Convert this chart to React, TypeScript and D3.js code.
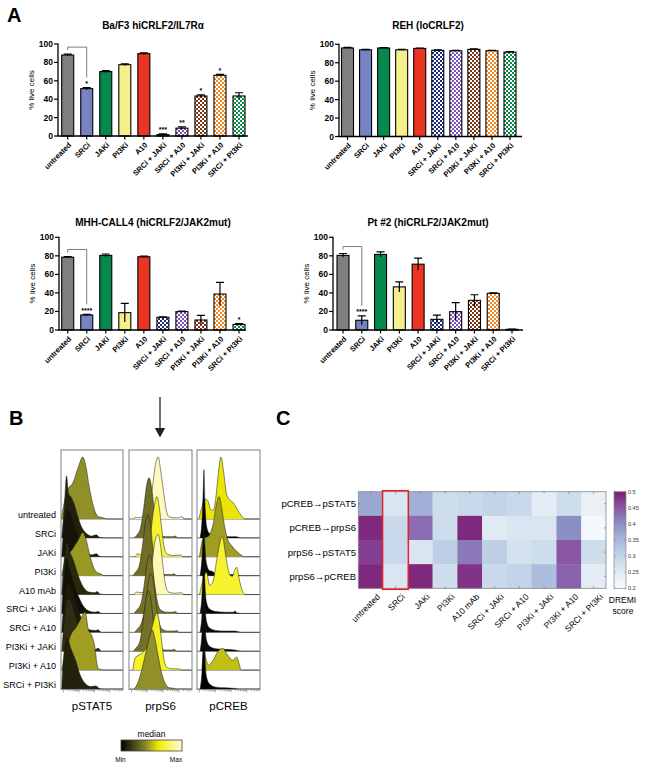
import React from "react";
import * as d3 from "d3";

// ---------------- DATA ----------------
const treatments = ["untreated", "SRCi", "JAKi", "PI3Ki", "A10", "SRCi + JAKi", "SRCi + A10", "PI3Ki + JAKi", "PI3Ki + A10", "SRCi + PI3Ki"];
const flowTreatments = ["untreated", "SRCi", "JAKi", "PI3Ki", "A10 mAb", "SRCi + JAKi", "SRCi + A10", "PI3Ki + JAKi", "PI3Ki + A10", "SRCi + PI3Ki"];
const yTicks = [0, 20, 40, 60, 80, 100];

const bafValues = [88, 51.5, 70, 77.5, 89.5, 1.5, 8.5, 43.5, 66, 43.5];
const bafErrors = [1, 1.2, 1, 0.8, 0.8, 0.8, 1.5, 1.2, 1, 3.5];
const bafStars = ["", "*", "", "", "", "***", "**", "*", "*", ""];

const rehValues = [96, 94, 96, 94, 95.5, 93.5, 93, 94.5, 93, 91.5];
const rehErrors = [0.6, 0.4, 0.4, 0.4, 0.4, 0.5, 0.4, 0.5, 0.4, 0.6];
const rehStars = ["", "", "", "", "", "", "", "", "", ""];

const mhhValues = [78.5, 16.2, 80.5, 18.7, 79, 13.7, 19.8, 10.8, 38.8, 6];
const mhhErrors = [0.8, 0.7, 1.5, 10, 0.8, 0.6, 0.7, 5, 12.6, 1];
const mhhStars = ["", "****", "", "", "", "", "", "", "", "*"];

const ptValues = [80.5, 10.5, 81.5, 46.5, 71, 11.5, 19.8, 32, 39.5, 0.7];
const ptErrors = [2, 4.8, 2.8, 5.5, 6.5, 4.5, 9.8, 6, 0.6, 0.3];
const ptStars = ["", "****", "", "", "", "", "", "", "", ""];

// flow histograms: [log-axis fraction, normalized count]; level = median colour level (0=min,1=max)
const pstat5Levels = [0.42, 0.1, 0.06, 0.44, 0.12, 0.05, 0.08, 0.14, 0.45, 0.1];
const pstat5Hist: [number, number][][] = [
  [[0, 0], [0.04, 0.2], [0.1, 0.45], [0.2, 0.6], [0.28, 0.84], [0.35, 1.0], [0.4, 0.86], [0.45, 0.55], [0.5, 0.3], [0.55, 0.12], [0.6, 0.04], [0.68, 0.02], [0.74, 0], [1, 0]],
  [[0.01, 0], [0.05, 0.45], [0.09, 1.0], [0.12, 0.72], [0.16, 0.66], [0.2, 0.58], [0.27, 0.35], [0.33, 0.18], [0.4, 0.08], [0.5, 0.03], [0.57, 0.05], [0.62, 0.01], [0.7, 0], [1, 0]],
  [[0.01, 0], [0.05, 0.5], [0.1, 0.75], [0.15, 0.72], [0.2, 0.55], [0.27, 0.35], [0.34, 0.16], [0.42, 0.06], [0.5, 0.03], [0.57, 0.05], [0.62, 0.01], [0.7, 0], [1, 0]],
  [[0.01, 0], [0.08, 0.28], [0.18, 0.42], [0.28, 0.58], [0.35, 0.7], [0.4, 0.6], [0.46, 0.35], [0.52, 0.15], [0.58, 0.05], [0.64, 0.03], [0.7, 0], [1, 0]],
  [[0.01, 0], [0.05, 0.55], [0.1, 0.85], [0.14, 0.7], [0.2, 0.55], [0.28, 0.3], [0.36, 0.12], [0.45, 0.04], [0.55, 0.03], [0.58, 0.05], [0.63, 0.01], [0.7, 0], [1, 0]],
  [[0.01, 0], [0.05, 0.6], [0.09, 0.9], [0.13, 0.75], [0.2, 0.5], [0.28, 0.28], [0.36, 0.12], [0.45, 0.04], [0.55, 0.02], [0.6, 0.03], [0.65, 0], [1, 0]],
  [[0.01, 0], [0.05, 0.5], [0.1, 0.8], [0.15, 0.75], [0.22, 0.55], [0.3, 0.3], [0.38, 0.12], [0.46, 0.04], [0.56, 0.03], [0.6, 0.04], [0.65, 0], [1, 0]],
  [[0.01, 0], [0.05, 0.45], [0.11, 0.85], [0.16, 0.8], [0.22, 0.6], [0.3, 0.35], [0.38, 0.15], [0.46, 0.05], [0.56, 0.03], [0.6, 0.05], [0.65, 0], [1, 0]],
  [[0.01, 0], [0.08, 0.3], [0.15, 0.55], [0.25, 0.7], [0.33, 0.85], [0.39, 0.94], [0.44, 0.66], [0.5, 0.55], [0.55, 0.35], [0.58, 0.1], [0.61, 0.02], [0.7, 0], [1, 0]],
  [[0.01, 0], [0.05, 0.6], [0.1, 0.82], [0.16, 0.65], [0.24, 0.45], [0.3, 0.25], [0.38, 0.1], [0.48, 0.04], [0.56, 0.05], [0.62, 0.01], [0.7, 0], [1, 0]],
];

const prps6Levels = [0.95, 0.33, 0.7, 0.33, 0.93, 0.35, 0.36, 0.34, 0.68, 0.42];
const prps6Hist: [number, number][][] = [
  [[0.08, 0], [0.1, 0.03], [0.14, 0.02], [0.22, 0.04], [0.31, 0.2], [0.37, 0.5], [0.42, 0.88], [0.465, 1.0], [0.5, 0.8], [0.545, 0.47], [0.59, 0.15], [0.63, 0.04], [0.7, 0.02], [0.8, 0.02], [0.84, 0.04], [0.87, 0], [1, 0]],
  [[0.08, 0], [0.12, 0.04], [0.18, 0.15], [0.23, 0.45], [0.28, 0.85], [0.32, 0.97], [0.36, 0.8], [0.4, 0.45], [0.45, 0.15], [0.5, 0.05], [0.58, 0.02], [0.7, 0.02], [0.74, 0.03], [0.77, 0], [1, 0]],
  [[0.1, 0], [0.14, 0.05], [0.2, 0.03], [0.28, 0.1], [0.34, 0.35], [0.39, 0.75], [0.445, 0.97], [0.48, 0.8], [0.52, 0.45], [0.56, 0.15], [0.61, 0.04], [0.7, 0.02], [0.82, 0.03], [0.86, 0], [1, 0]],
  [[0.06, 0], [0.1, 0.05], [0.16, 0.15], [0.21, 0.45], [0.26, 0.85], [0.3, 0.98], [0.34, 0.82], [0.38, 0.45], [0.43, 0.15], [0.48, 0.05], [0.56, 0.02], [0.68, 0.02], [0.72, 0.03], [0.75, 0], [1, 0]],
  [[0.08, 0], [0.12, 0.04], [0.2, 0.03], [0.3, 0.15], [0.36, 0.45], [0.41, 0.85], [0.46, 0.97], [0.5, 0.8], [0.54, 0.45], [0.58, 0.15], [0.63, 0.04], [0.72, 0.02], [0.84, 0.03], [0.87, 0], [1, 0]],
  [[0.08, 0], [0.12, 0.05], [0.19, 0.16], [0.24, 0.45], [0.29, 0.82], [0.33, 0.95], [0.37, 0.8], [0.41, 0.45], [0.46, 0.15], [0.51, 0.05], [0.6, 0.02], [0.7, 0.02], [0.74, 0.03], [0.77, 0], [1, 0]],
  [[0.09, 0], [0.13, 0.05], [0.2, 0.16], [0.26, 0.45], [0.31, 0.82], [0.35, 0.95], [0.39, 0.8], [0.43, 0.45], [0.48, 0.15], [0.53, 0.05], [0.62, 0.02], [0.72, 0.02], [0.76, 0.03], [0.79, 0], [1, 0]],
  [[0.07, 0], [0.11, 0.05], [0.17, 0.15], [0.22, 0.45], [0.27, 0.85], [0.31, 0.97], [0.35, 0.82], [0.39, 0.45], [0.44, 0.15], [0.49, 0.05], [0.57, 0.02], [0.68, 0.02], [0.72, 0.03], [0.75, 0], [1, 0]],
  [[0.06, 0], [0.1, 0.2], [0.2, 0.27], [0.3, 0.4], [0.37, 0.7], [0.44, 0.92], [0.48, 0.78], [0.52, 0.45], [0.56, 0.15], [0.61, 0.04], [0.7, 0.02], [0.8, 0.02], [0.84, 0], [1, 0]],
  [[0.08, 0], [0.14, 0.1], [0.2, 0.3], [0.27, 0.6], [0.33, 0.85], [0.37, 0.95], [0.41, 0.82], [0.46, 0.55], [0.52, 0.25], [0.58, 0.08], [0.64, 0.02], [0.72, 0.01], [0.76, 0], [1, 0]],
];

const pcrebLevels = [0.6, 0.0, 0.45, 0.02, 0.7, 0.0, 0.03, 0.03, 0.52, 0.0];
const pcrebHist: [number, number][][] = [
  [[0.03, 0], [0.08, 0.2], [0.13, 0.32], [0.17, 0.3], [0.22, 0.15], [0.26, 0.14], [0.3, 0.35], [0.34, 0.75], [0.38, 1.0], [0.42, 0.78], [0.47, 0.4], [0.53, 0.3], [0.58, 0.26], [0.64, 0.15], [0.7, 0.06], [0.76, 0], [1, 0]],
  [[0.05, 0], [0.08, 0.3], [0.1, 0.8], [0.11, 1.1], [0.125, 0.6], [0.15, 0.2], [0.19, 0.08], [0.25, 0.05], [0.35, 0.03], [0.5, 0.02], [0.62, 0.02], [0.7, 0], [1, 0]],
  [[0.04, 0], [0.1, 0.3], [0.18, 0.33], [0.26, 0.55], [0.31, 0.85], [0.35, 0.97], [0.39, 0.8], [0.42, 0.6], [0.48, 0.3], [0.55, 0.18], [0.64, 0.08], [0.76, 0], [1, 0]],
  [[0.05, 0], [0.08, 0.3], [0.1, 0.7], [0.11, 0.9], [0.125, 0.5], [0.15, 0.2], [0.2, 0.08], [0.24, 0.07], [0.3, 0.03], [0.45, 0.02], [0.6, 0.02], [0.7, 0], [1, 0]],
  [[0.04, 0], [0.1, 0.25], [0.15, 0.36], [0.2, 0.15], [0.25, 0.2], [0.32, 0.6], [0.4, 0.94], [0.46, 0.6], [0.52, 0.32], [0.56, 0.29], [0.6, 0.4], [0.63, 0.44], [0.67, 0.25], [0.72, 0.06], [0.77, 0], [1, 0]],
  [[0.05, 0], [0.08, 0.3], [0.1, 0.75], [0.11, 0.95], [0.125, 0.5], [0.15, 0.18], [0.2, 0.07], [0.3, 0.03], [0.45, 0.02], [0.58, 0.02], [0.6, 0.04], [0.63, 0.01], [0.7, 0], [1, 0]],
  [[0.05, 0], [0.08, 0.3], [0.1, 0.7], [0.11, 0.9], [0.125, 0.5], [0.15, 0.18], [0.2, 0.07], [0.3, 0.03], [0.45, 0.02], [0.6, 0.02], [0.7, 0], [1, 0]],
  [[0.05, 0], [0.08, 0.3], [0.1, 0.72], [0.11, 0.92], [0.125, 0.5], [0.15, 0.18], [0.2, 0.08], [0.3, 0.04], [0.45, 0.03], [0.6, 0.02], [0.7, 0], [1, 0]],
  [[0.08, 0], [0.11, 0.32], [0.15, 0.15], [0.18, 0.08], [0.25, 0.15], [0.33, 0.3], [0.41, 0.35], [0.48, 0.25], [0.57, 0.16], [0.63, 0.21], [0.67, 0.1], [0.7, 0], [1, 0]],
  [[0.05, 0], [0.08, 0.3], [0.1, 0.75], [0.11, 1.0], [0.125, 0.55], [0.15, 0.2], [0.2, 0.08], [0.3, 0.03], [0.45, 0.02], [0.6, 0.01], [0.7, 0], [1, 0]],
];

const flowMarkers = ["pSTAT5", "prpS6", "pCREB"];

// DREMI heatmap
const dremiEdges = ["pCREB\u2192pSTAT5", "pCREB\u2192prpS6", "prpS6\u2192pSTAT5", "prpS6\u2192pCREB"];
const dremiCrebStat5 = [0.37, 0.26, 0.36, 0.28, 0.29, 0.3, 0.29, 0.24, 0.28, 0.23];
const dremiCrebRps6 = [0.49, 0.29, 0.43, 0.28, 0.49, 0.25, 0.26, 0.26, 0.4, 0.21];
const dremiRps6Stat5 = [0.47, 0.29, 0.26, 0.31, 0.42, 0.31, 0.27, 0.28, 0.45, 0.28];
const dremiRps6Creb = [0.49, 0.26, 0.49, 0.28, 0.48, 0.29, 0.3, 0.34, 0.44, 0.24];
const dremiTicks = [0.2, 0.25, 0.3, 0.35, 0.4, 0.45, 0.5];

// ---------------- STYLE ----------------
const FONT = "'Liberation Sans', Arial, Helvetica, sans-serif";
const barColors = ["#7f7f7f", "#7683c1", "#06894e", "#f5ef8c", "#ec3423", "#1c2a7a", "#7c53b6", "#7a3515", "#f68b26", "#0b8b48"];
const barPatterned = [false, false, false, false, false, true, true, true, true, true];

const medianColor = d3.scaleLinear<string>()
  .domain([0, 0.4, 0.62, 1])
  .range(["#000000", "#86852c", "#f4ef00", "#fffbdc"])
  .interpolate(d3.interpolateRgb);

const dremiColor = d3.scaleLinear<string>()
  .domain([0.2, 0.25, 0.3, 0.35, 0.4, 0.45, 0.5])
  .range(["#f7fbfd", "#dfeaf3", "#c3d4e8", "#a5b8db", "#8c8fc4", "#8a56a6", "#7b1c74"])
  .interpolate(d3.interpolateRgb);

type ChartCfg = {
  title: string; values: number[]; errors: number[]; stars: string[]; bracket: boolean;
  axisX0: number; axisX1: number; c0: number; c9: number; y0: number; y100: number; titleX: number; titleY: number;
};

const charts: ChartCfg[] = [
  { title: "Ba/F3 hiCRLF2/IL7R\u03b1", values: bafValues, errors: bafErrors, stars: bafStars, bracket: true,
    axisX0: 58, axisX1: 248, c0: 67.7, c9: 239, y0: 136, y100: 44, titleX: 153, titleY: 29 },
  { title: "REH (loCRLF2)", values: rehValues, errors: rehErrors, stars: rehStars, bracket: false,
    axisX0: 339, axisX1: 522, c0: 347.5, c9: 510, y0: 136.5, y100: 44.3, titleX: 428, titleY: 29 },
  { title: "MHH-CALL4 (hiCRLF2/JAK2mut)", values: mhhValues, errors: mhhErrors, stars: mhhStars, bracket: true,
    axisX0: 59, axisX1: 246, c0: 67.7, c9: 239, y0: 330, y100: 237.3, titleX: 153, titleY: 226 },
  { title: "Pt #2 (hiCRLF2/JAK2mut)", values: ptValues, errors: ptErrors, stars: ptStars, bracket: true,
    axisX0: 333, axisX1: 523, c0: 343, c9: 512, y0: 330, y100: 237.3, titleX: 428, titleY: 226 },
];

function BarChart({ cfg }: { cfg: ChartCfg }) {
  const x = d3.scalePoint<string>().domain(treatments).range([cfg.c0, cfg.c9]);
  const y = d3.scaleLinear().domain([0, 100]).range([cfg.y0, cfg.y100]);
  const bw = 12;
  const cap = 4;
  const yMid = (cfg.y0 + cfg.y100) / 2;
  let bracket: React.ReactNode = null;
  if (cfg.bracket) {
    const xa = x(treatments[0])!;
    const xb = x(treatments[1])!;
    const by = y(cfg.values[0] + cfg.errors[0]) - 7;
    const starY = y(cfg.values[1] + cfg.errors[1]) - 2;
    bracket = (
      <path d={`M${xa},${by + 3}V${by}H${xb}V${starY - 8}`} fill="none" stroke="#6e6e6e" strokeWidth={0.9} />
    );
  }
  return (
    <g>
      <text x={cfg.titleX} y={cfg.titleY} textAnchor="middle" fontSize={10} fontWeight="bold" fontFamily={FONT}>{cfg.title}</text>
      <text transform={`translate(${cfg.axisX0 - 24},${yMid}) rotate(-90)`} textAnchor="middle" fontSize={8} fontFamily={FONT}>% live cells</text>
      {treatments.map((t, i) => {
        const cx = x(t)!;
        const v = cfg.values[i];
        const e = cfg.errors[i];
        const fill = barPatterned[i] ? `url(#chk${i})` : barColors[i];
        return (
          <g key={t}>
            <rect x={cx - bw / 2} y={y(v)} width={bw} height={cfg.y0 - y(v)} fill={fill} stroke="#000" strokeWidth={1.1} />
            <path d={`M${cx},${y(v - e)}V${y(v + e)}M${cx - cap},${y(v + e)}H${cx + cap}`} stroke="#000" strokeWidth={1.2} fill="none" />
            {cfg.stars[i] ? (
              <text x={cx} y={y(v + e) - 1.5} textAnchor="middle" fontSize={7} fontWeight="bold" fontFamily={FONT}>{cfg.stars[i]}</text>
            ) : null}
          </g>
        );
      })}
      {bracket}
      <line x1={cfg.axisX0} x2={cfg.axisX0} y1={cfg.y0} y2={cfg.y100 - 0.5} stroke="#000" strokeWidth={1.3} />
      <line x1={cfg.axisX0 - 0.6} x2={cfg.axisX1} y1={cfg.y0} y2={cfg.y0} stroke="#000" strokeWidth={1.3} />
      {yTicks.map((t) => (
        <g key={t}>
          <line x1={cfg.axisX0 - 4} x2={cfg.axisX0} y1={y(t)} y2={y(t)} stroke="#000" strokeWidth={1.2} />
          <text x={cfg.axisX0 - 5} y={y(t) + 3} textAnchor="end" fontSize={8.5} fontWeight="bold" fontFamily={FONT}>{t}</text>
        </g>
      ))}
      {treatments.map((t) => (
        <g key={"xt" + t}>
          <line x1={x(t)!} x2={x(t)!} y1={cfg.y0} y2={cfg.y0 + 3.5} stroke="#000" strokeWidth={1.2} />
          <text transform={`translate(${x(t)! + 4},${cfg.y0 + 9.5}) rotate(-45)`} textAnchor="end" fontSize={7.5} fontWeight="bold" fontFamily={FONT}>{t}</text>
        </g>
      ))}
    </g>
  );
}

const BOX_TOP = 450;
const BOX_BOTTOM = 689.5;
const HIST_H = 62;
const flowBoxes = [
  { x0: 61, x1: 123, hist: pstat5Hist, levels: pstat5Levels },
  { x0: 129, x1: 192, hist: prps6Hist, levels: prps6Levels },
  { x0: 197, x1: 260, hist: pcrebHist, levels: pcrebLevels },
];

function FlowPanel() {
  const rowY = d3.scalePoint<string>().domain(flowTreatments).range([519, 689]);
  const logTicks: { f: number; major: boolean }[] = [];
  [0.04, 0.29, 0.54, 0.79].forEach((d0) => {
    for (let k = 1; k <= 9; k++) {
      const f = d0 + 0.25 * Math.log10(k);
      if (f <= 1) logTicks.push({ f, major: k === 1 });
    }
  });
  return (
    <g>
      <defs>
        {flowBoxes.map((b, bi) => (
          <clipPath id={`boxclip${bi}`} key={bi}>
            <rect x={b.x0} y={BOX_TOP} width={b.x1 - b.x0} height={BOX_BOTTOM - BOX_TOP} />
          </clipPath>
        ))}
      </defs>
      {flowTreatments.map((t) => (
        <text key={t} x={56} y={rowY(t)! - 1} textAnchor="end" fontSize={9} fontFamily={FONT}>{t}</text>
      ))}
      {flowBoxes.map((b, bi) => {
        const xs = d3.scaleLinear().domain([0, 1]).range([b.x0, b.x1]);
        return (
          <g key={bi}>
            <rect x={b.x0} y={BOX_TOP} width={b.x1 - b.x0} height={BOX_BOTTOM - BOX_TOP} fill="#fff" />
            <g clipPath={`url(#boxclip${bi})`}>
              {flowTreatments.map((t, ri) => {
                const base = rowY(t)!;
                const area = d3.area<[number, number]>().x((d) => xs(d[0])).y0(base).y1((d) => base - d[1] * HIST_H).curve(d3.curveMonotoneX);
                const line = d3.line<[number, number]>().x((d) => xs(d[0])).y((d) => base - d[1] * HIST_H).curve(d3.curveMonotoneX);
                return (
                  <g key={t}>
                    <line x1={b.x0} x2={b.x1} y1={base} y2={base} stroke="#6a6a6a" strokeWidth={0.9} />
                    <path d={area(b.hist[ri]) || ""} fill={medianColor(b.levels[ri])} stroke="none" />
                    <path d={line(b.hist[ri]) || ""} fill="none" stroke="#1a1a1a" strokeWidth={0.5} />
                  </g>
                );
              })}
            </g>
            <rect x={b.x0} y={BOX_TOP} width={b.x1 - b.x0} height={BOX_BOTTOM - BOX_TOP} fill="none" stroke="#8a8a8a" strokeWidth={1.1} />
            {logTicks.map((lt, i) => (
              <line key={i} x1={xs(lt.f)} x2={xs(lt.f)} y1={BOX_BOTTOM + 0.5} y2={BOX_BOTTOM + (lt.major ? 3 : 1.8)} stroke="#777" strokeWidth={0.6} />
            ))}
            <text x={(b.x0 + b.x1) / 2} y={710} textAnchor="middle" fontSize={11.5} fontFamily={FONT}>{flowMarkers[bi]}</text>
          </g>
        );
      })}
      <line x1={160} x2={160} y1={397} y2={429} stroke="#222" strokeWidth={1.3} />
      <path d="M154.8,428 L165.2,428 L160,437.5 Z" fill="#222" />
      <defs>
        <linearGradient id="medGrad" x1="0" x2="1" y1="0" y2="0">
          {d3.range(0, 1.0001, 0.1).map((s) => (
            <stop key={s} offset={s} stopColor={medianColor(s)} />
          ))}
        </linearGradient>
      </defs>
      <text x={151.5} y={737} textAnchor="middle" fontSize={8.5} fontFamily={FONT}>median</text>
      <rect x={121} y={740} width={61} height={11} fill="url(#medGrad)" stroke="#444" strokeWidth={0.8} />
      <text x={120.5} y={762} textAnchor="middle" fontSize={6.5} fontFamily={FONT}>Min</text>
      <text x={176} y={762} textAnchor="middle" fontSize={6.5} fontFamily={FONT}>Max</text>
    </g>
  );
}

function DremiPanel() {
  const rows = [dremiCrebStat5, dremiCrebRps6, dremiRps6Stat5, dremiRps6Creb];
  const x = d3.scaleBand<string>().domain(flowTreatments).range([358.3, 606]);
  const y = d3.scaleBand<string>().domain(dremiEdges).range([491.7, 588.3]);
  const cb = d3.scaleLinear().domain([0.2, 0.5]).range([588.3, 491.7]);
  const x0 = 358.3, x1 = 606, y0 = 491.7, y1 = 588.3;
  return (
    <g>
      <defs>
        <linearGradient id="dremiGrad" x1="0" x2="0" y1="1" y2="0">
          {d3.range(0, 1.0001, 0.05).map((s) => (
            <stop key={s} offset={s} stopColor={dremiColor(0.2 + s * 0.3)} />
          ))}
        </linearGradient>
      </defs>
      {rows.map((vals, ri) =>
        vals.map((v, ci) => (
          <rect key={ri + "-" + ci} x={x(flowTreatments[ci])!} y={y(dremiEdges[ri])!} width={x.bandwidth() + 0.3} height={y.bandwidth() + 0.3} fill={dremiColor(v)} />
        ))
      )}
      <rect x={x0} y={y0} width={x1 - x0} height={y1 - y0} fill="none" stroke="#8a8a8a" strokeWidth={0.8} />
      {flowTreatments.map((t) => (
        <g key={t}>
          <line x1={x(t)! + x.bandwidth() / 2} x2={x(t)! + x.bandwidth() / 2} y1={y0} y2={y0 + 2} stroke="#666" strokeWidth={0.6} />
          <line x1={x(t)! + x.bandwidth() / 2} x2={x(t)! + x.bandwidth() / 2} y1={y1} y2={y1 - 2} stroke="#666" strokeWidth={0.6} />
          <text transform={`translate(${x(t)! + x.bandwidth() / 2 + 10},${y1 + 9}) rotate(-45)`} textAnchor="end" fontSize={8.5} fontFamily={FONT}>{t}</text>
        </g>
      ))}
      {dremiEdges.map((e) => (
        <g key={e}>
          <line x1={x1} x2={x1 - 2} y1={y(e)! + y.bandwidth() / 2} y2={y(e)! + y.bandwidth() / 2} stroke="#666" strokeWidth={0.6} />
          <line x1={x0} x2={x0 + 2} y1={y(e)! + y.bandwidth() / 2} y2={y(e)! + y.bandwidth() / 2} stroke="#666" strokeWidth={0.6} />
          <text x={356} y={y(e)! + y.bandwidth() / 2 + 3.5} textAnchor="end" fontSize={9.5} fontFamily={FONT}>{e}</text>
        </g>
      ))}
      <rect x={x("SRCi")! - 0.5} y={y0 - 1} width={x.bandwidth() + 1} height={y1 - y0 + 2} fill="none" stroke="#e5202a" strokeWidth={1.5} />
      <rect x={614} y={491.7} width={12} height={96.6} fill="url(#dremiGrad)" stroke="#8a8a8a" strokeWidth={0.7} />
      {dremiTicks.map((t) => (
        <g key={t}>
          <line x1={626} x2={624.5} y1={cb(t)} y2={cb(t)} stroke="#666" strokeWidth={0.5} />
          <line x1={614} x2={615.5} y1={cb(t)} y2={cb(t)} stroke="#666" strokeWidth={0.5} />
          <text x={628} y={cb(t) + 2} fontSize={5.5} fontFamily={FONT} fill="#333">{String(t)}</text>
        </g>
      ))}
      <text x={622.5} y={603} textAnchor="middle" fontSize={8.5} fontFamily={FONT}>DREMI</text>
      <text x={623} y={613.5} textAnchor="middle" fontSize={8.5} fontFamily={FONT}>score</text>
    </g>
  );
}

export default function App() {
  return (
    <svg width={650} height={771} viewBox="0 0 650 771" style={{ position: "absolute", left: 0, top: 0, background: "#fff" }} fontFamily={FONT}>
      <rect x={0} y={0} width={650} height={771} fill="#fff" />
      <defs>
        {barColors.map((c, i) =>
          barPatterned[i] ? (
            <pattern key={i} id={`chk${i}`} width={4} height={4} patternUnits="userSpaceOnUse">
              <rect x={0} y={0} width={4} height={4} fill="#fff" />
              <rect x={0} y={0} width={2} height={2} fill={c} />
              <rect x={2} y={2} width={2} height={2} fill={c} />
            </pattern>
          ) : null
        )}
      </defs>
      <text x={7} y={22} fontSize={20} fontWeight="bold" fontFamily={FONT}>A</text>
      <text x={9} y={425} fontSize={20} fontWeight="bold" fontFamily={FONT}>B</text>
      <text x={276} y={425} fontSize={20} fontWeight="bold" fontFamily={FONT}>C</text>
      {charts.map((c, i) => (
        <BarChart key={i} cfg={c} />
      ))}
      <FlowPanel />
      <DremiPanel />
    </svg>
  );
}
